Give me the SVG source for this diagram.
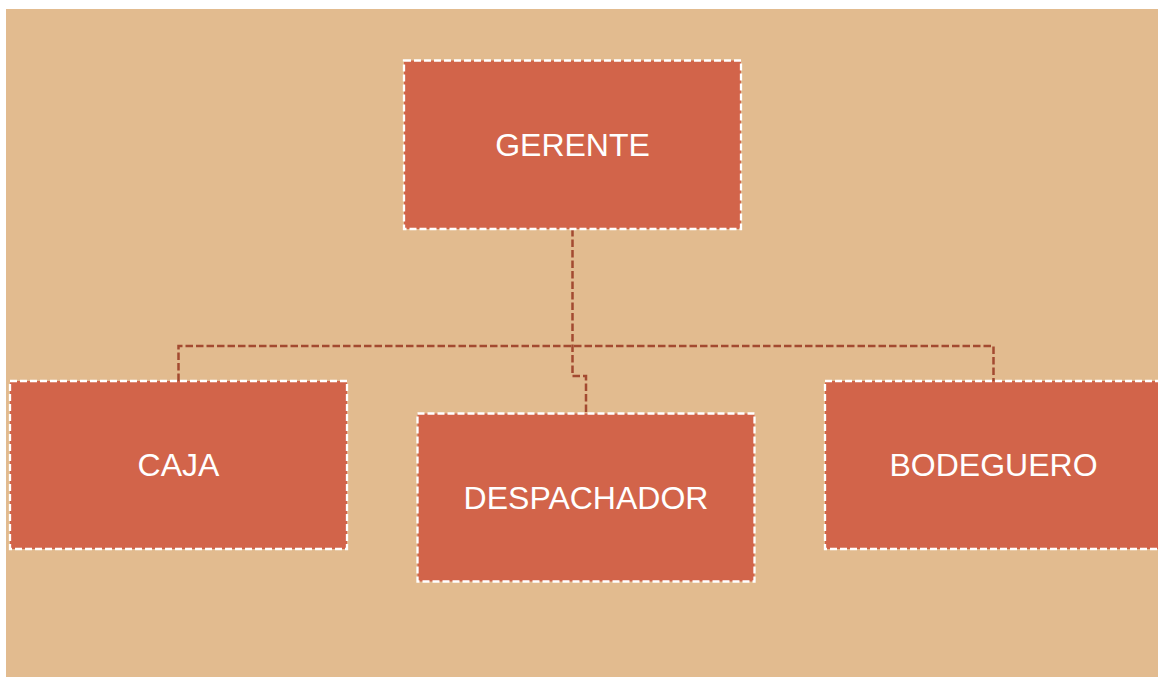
<svg xmlns="http://www.w3.org/2000/svg" width="1158" height="677" viewBox="0 0 1158 677">
<style>
.box{fill:#D2644A;stroke:#FFFFFF;stroke-width:2.3;stroke-dasharray:7 3}
.lbl{font-family:"Liberation Sans",Arial,sans-serif;font-size:32px;fill:#FFFFFF;text-anchor:middle}
.con{fill:none;stroke:#A34A30;stroke-width:2.5;stroke-dasharray:7.5 3}
</style>
<rect x="0" y="0" width="1158" height="677" fill="#FFFFFF"/>
<rect x="6" y="9" width="1152" height="668" fill="#E2BB8F"/>
<g id="connectors">
<path class="con" d="M572.5 229 V376 H586 V413"/>
<path class="con" d="M178.5 381 V346 H993.5 V381"/>
</g>
<g id="gerente">
<rect class="box" x="404" y="60.5" width="337" height="168.5"/>
<text class="lbl" x="572.5" y="155.5">GERENTE</text>
</g>
<g id="caja">
<rect class="box" x="10" y="381" width="337" height="168"/>
<text class="lbl" x="178.5" y="475.5">CAJA</text>
</g>
<g id="despachador">
<rect class="box" x="417.5" y="413.5" width="337" height="168"/>
<text class="lbl" x="586" y="508.5">DESPACHADOR</text>
</g>
<g id="bodeguero">
<rect class="box" x="825" y="381" width="337" height="168"/>
<text class="lbl" x="993.5" y="475.5">BODEGUERO</text>
</g>
</svg>
